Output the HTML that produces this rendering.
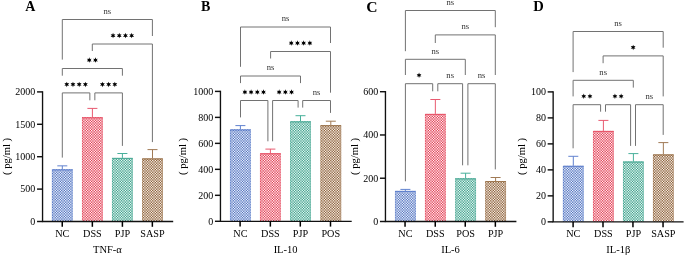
<!DOCTYPE html><html><head><meta charset="utf-8"><style>html,body{margin:0;padding:0;background:#fff;}svg{display:block;will-change:transform}</style></head><body>
<svg width="685" height="257" viewBox="0 0 685 257" font-family='"Liberation Serif", serif'>
<defs>
<pattern id="p_blue" width="13" height="13" patternUnits="userSpaceOnUse"><path fill="#5072c0" d="M4 0h1v1h-1zM12 0h1v1h-1zM0 4h1v1h-1zM8 4h1v1h-1zM4 8h1v1h-1zM12 8h1v1h-1zM0 12h1v1h-1zM8 12h1v1h-1z"/><path fill="#5e7dc5" d="M9 0h1v1h-1zM4 3h1v1h-1zM12 3h1v1h-1zM3 4h1v1h-1zM9 8h1v1h-1zM0 9h1v1h-1zM8 9h1v1h-1zM3 12h1v1h-1z"/><path fill="#6b88ca" d="M7 0h1v1h-1zM9 3h1v1h-1zM5 4h1v1h-1zM4 5h1v1h-1zM12 5h1v1h-1zM0 7h1v1h-1zM8 7h1v1h-1zM7 8h1v1h-1zM3 9h1v1h-1zM5 12h1v1h-1z"/><path fill="#7893cf" d="M7 3h1v1h-1zM9 5h1v1h-1zM3 7h1v1h-1zM5 9h1v1h-1z"/><path fill="#869ed4" d="M1 0h1v1h-1zM0 1h1v1h-1zM3 1h1v1h-1zM8 1h1v1h-1zM1 3h1v1h-1zM11 4h1v1h-1zM7 5h1v1h-1zM5 7h1v1h-1zM1 8h1v1h-1zM11 9h1v1h-1zM4 11h1v1h-1zM9 11h1v1h-1zM12 11h1v1h-1zM11 12h1v1h-1z"/><path fill="#94a9d9" d="M2 0h1v1h-1zM5 1h1v1h-1zM11 1h1v1h-1zM0 2h1v1h-1zM3 2h1v1h-1zM5 2h1v1h-1zM8 2h1v1h-1zM2 3h1v1h-1zM10 4h1v1h-1zM1 5h1v1h-1zM2 5h1v1h-1zM10 7h1v1h-1zM11 7h1v1h-1zM2 8h1v1h-1zM10 9h1v1h-1zM4 10h1v1h-1zM7 10h1v1h-1zM9 10h1v1h-1zM12 10h1v1h-1zM1 11h1v1h-1zM7 11h1v1h-1zM10 12h1v1h-1z"/><path fill="#a1b4de" d="M6 0h1v1h-1zM2 1h1v1h-1zM6 1h1v1h-1zM10 1h1v1h-1zM1 2h1v1h-1zM2 2h1v1h-1zM6 2h1v1h-1zM10 2h1v1h-1zM11 2h1v1h-1zM6 3h1v1h-1zM6 4h1v1h-1zM6 5h1v1h-1zM0 6h1v1h-1zM1 6h1v1h-1zM2 6h1v1h-1zM3 6h1v1h-1zM4 6h1v1h-1zM5 6h1v1h-1zM6 6h1v1h-1zM7 6h1v1h-1zM8 6h1v1h-1zM9 6h1v1h-1zM10 6h1v1h-1zM11 6h1v1h-1zM12 6h1v1h-1zM6 7h1v1h-1zM6 8h1v1h-1zM6 9h1v1h-1zM1 10h1v1h-1zM2 10h1v1h-1zM6 10h1v1h-1zM10 10h1v1h-1zM11 10h1v1h-1zM2 11h1v1h-1zM6 11h1v1h-1zM10 11h1v1h-1zM6 12h1v1h-1z"/><path fill="#aebee3" d="M10 0h1v1h-1zM1 1h1v1h-1zM7 1h1v1h-1zM4 2h1v1h-1zM7 2h1v1h-1zM9 2h1v1h-1zM12 2h1v1h-1zM10 3h1v1h-1zM2 4h1v1h-1zM10 5h1v1h-1zM11 5h1v1h-1zM1 7h1v1h-1zM2 7h1v1h-1zM10 8h1v1h-1zM2 9h1v1h-1zM0 10h1v1h-1zM3 10h1v1h-1zM5 10h1v1h-1zM8 10h1v1h-1zM5 11h1v1h-1zM11 11h1v1h-1zM2 12h1v1h-1z"/><path fill="#bcc9e8" d="M11 0h1v1h-1zM4 1h1v1h-1zM9 1h1v1h-1zM12 1h1v1h-1zM11 3h1v1h-1zM1 4h1v1h-1zM5 5h1v1h-1zM7 7h1v1h-1zM11 8h1v1h-1zM1 9h1v1h-1zM0 11h1v1h-1zM3 11h1v1h-1zM8 11h1v1h-1zM1 12h1v1h-1z"/><path fill="#cad4ed" d="M5 3h1v1h-1zM3 5h1v1h-1zM9 7h1v1h-1zM7 9h1v1h-1z"/><path fill="#d7dff2" d="M5 0h1v1h-1zM3 3h1v1h-1zM7 4h1v1h-1zM0 5h1v1h-1zM8 5h1v1h-1zM4 7h1v1h-1zM12 7h1v1h-1zM5 8h1v1h-1zM9 9h1v1h-1zM7 12h1v1h-1z"/><path fill="#e4eaf7" d="M3 0h1v1h-1zM0 3h1v1h-1zM8 3h1v1h-1zM9 4h1v1h-1zM3 8h1v1h-1zM4 9h1v1h-1zM12 9h1v1h-1zM9 12h1v1h-1z"/><path fill="#f2f5fc" d="M0 0h1v1h-1zM8 0h1v1h-1zM4 4h1v1h-1zM12 4h1v1h-1zM0 8h1v1h-1zM8 8h1v1h-1zM4 12h1v1h-1zM12 12h1v1h-1z"/></pattern>
<pattern id="p_red" width="13" height="13" patternUnits="userSpaceOnUse"><path fill="#e23a50" d="M4 0h1v1h-1zM12 0h1v1h-1zM0 4h1v1h-1zM8 4h1v1h-1zM4 8h1v1h-1zM12 8h1v1h-1zM0 12h1v1h-1zM8 12h1v1h-1z"/><path fill="#e44a5e" d="M9 0h1v1h-1zM4 3h1v1h-1zM12 3h1v1h-1zM3 4h1v1h-1zM9 8h1v1h-1zM0 9h1v1h-1zM8 9h1v1h-1zM3 12h1v1h-1z"/><path fill="#e75a6c" d="M7 0h1v1h-1zM9 3h1v1h-1zM5 4h1v1h-1zM4 5h1v1h-1zM12 5h1v1h-1zM0 7h1v1h-1zM8 7h1v1h-1zM7 8h1v1h-1zM3 9h1v1h-1zM5 12h1v1h-1z"/><path fill="#e9697a" d="M7 3h1v1h-1zM9 5h1v1h-1zM3 7h1v1h-1zM5 9h1v1h-1z"/><path fill="#ec7988" d="M1 0h1v1h-1zM0 1h1v1h-1zM3 1h1v1h-1zM8 1h1v1h-1zM1 3h1v1h-1zM11 4h1v1h-1zM7 5h1v1h-1zM5 7h1v1h-1zM1 8h1v1h-1zM11 9h1v1h-1zM4 11h1v1h-1zM9 11h1v1h-1zM12 11h1v1h-1zM11 12h1v1h-1z"/><path fill="#ee8996" d="M2 0h1v1h-1zM5 1h1v1h-1zM11 1h1v1h-1zM0 2h1v1h-1zM3 2h1v1h-1zM5 2h1v1h-1zM8 2h1v1h-1zM2 3h1v1h-1zM10 4h1v1h-1zM1 5h1v1h-1zM2 5h1v1h-1zM10 7h1v1h-1zM11 7h1v1h-1zM2 8h1v1h-1zM10 9h1v1h-1zM4 10h1v1h-1zM7 10h1v1h-1zM9 10h1v1h-1zM12 10h1v1h-1zM1 11h1v1h-1zM7 11h1v1h-1zM10 12h1v1h-1z"/><path fill="#f098a4" d="M6 0h1v1h-1zM2 1h1v1h-1zM6 1h1v1h-1zM10 1h1v1h-1zM1 2h1v1h-1zM2 2h1v1h-1zM6 2h1v1h-1zM10 2h1v1h-1zM11 2h1v1h-1zM6 3h1v1h-1zM6 4h1v1h-1zM6 5h1v1h-1zM0 6h1v1h-1zM1 6h1v1h-1zM2 6h1v1h-1zM3 6h1v1h-1zM4 6h1v1h-1zM5 6h1v1h-1zM6 6h1v1h-1zM7 6h1v1h-1zM8 6h1v1h-1zM9 6h1v1h-1zM10 6h1v1h-1zM11 6h1v1h-1zM12 6h1v1h-1zM6 7h1v1h-1zM6 8h1v1h-1zM6 9h1v1h-1zM1 10h1v1h-1zM2 10h1v1h-1zM6 10h1v1h-1zM10 10h1v1h-1zM11 10h1v1h-1zM2 11h1v1h-1zM6 11h1v1h-1zM10 11h1v1h-1zM6 12h1v1h-1z"/><path fill="#f3a8b2" d="M10 0h1v1h-1zM1 1h1v1h-1zM7 1h1v1h-1zM4 2h1v1h-1zM7 2h1v1h-1zM9 2h1v1h-1zM12 2h1v1h-1zM10 3h1v1h-1zM2 4h1v1h-1zM10 5h1v1h-1zM11 5h1v1h-1zM1 7h1v1h-1zM2 7h1v1h-1zM10 8h1v1h-1zM2 9h1v1h-1zM0 10h1v1h-1zM3 10h1v1h-1zM5 10h1v1h-1zM8 10h1v1h-1zM5 11h1v1h-1zM11 11h1v1h-1zM2 12h1v1h-1z"/><path fill="#f5b8c0" d="M11 0h1v1h-1zM4 1h1v1h-1zM9 1h1v1h-1zM12 1h1v1h-1zM11 3h1v1h-1zM1 4h1v1h-1zM5 5h1v1h-1zM7 7h1v1h-1zM11 8h1v1h-1zM1 9h1v1h-1zM0 11h1v1h-1zM3 11h1v1h-1zM8 11h1v1h-1zM1 12h1v1h-1z"/><path fill="#f8c8ce" d="M5 3h1v1h-1zM3 5h1v1h-1zM9 7h1v1h-1zM7 9h1v1h-1z"/><path fill="#fad8dc" d="M5 0h1v1h-1zM3 3h1v1h-1zM7 4h1v1h-1zM0 5h1v1h-1zM8 5h1v1h-1zM4 7h1v1h-1zM12 7h1v1h-1zM5 8h1v1h-1zM9 9h1v1h-1zM7 12h1v1h-1z"/><path fill="#fde7ea" d="M3 0h1v1h-1zM0 3h1v1h-1zM8 3h1v1h-1zM9 4h1v1h-1zM3 8h1v1h-1zM4 9h1v1h-1zM12 9h1v1h-1zM9 12h1v1h-1z"/><path fill="#fff7f8" d="M0 0h1v1h-1zM8 0h1v1h-1zM4 4h1v1h-1zM12 4h1v1h-1zM0 8h1v1h-1zM8 8h1v1h-1zM4 12h1v1h-1zM12 12h1v1h-1z"/></pattern>
<pattern id="p_teal" width="13" height="13" patternUnits="userSpaceOnUse"><path fill="#3aa08a" d="M4 0h1v1h-1zM12 0h1v1h-1zM0 4h1v1h-1zM8 4h1v1h-1zM4 8h1v1h-1zM12 8h1v1h-1zM0 12h1v1h-1zM8 12h1v1h-1z"/><path fill="#49a793" d="M9 0h1v1h-1zM4 3h1v1h-1zM12 3h1v1h-1zM3 4h1v1h-1zM9 8h1v1h-1zM0 9h1v1h-1zM8 9h1v1h-1zM3 12h1v1h-1z"/><path fill="#58af9c" d="M7 0h1v1h-1zM9 3h1v1h-1zM5 4h1v1h-1zM4 5h1v1h-1zM12 5h1v1h-1zM0 7h1v1h-1zM8 7h1v1h-1zM7 8h1v1h-1zM3 9h1v1h-1zM5 12h1v1h-1z"/><path fill="#67b6a5" d="M7 3h1v1h-1zM9 5h1v1h-1zM3 7h1v1h-1zM5 9h1v1h-1z"/><path fill="#76beae" d="M1 0h1v1h-1zM0 1h1v1h-1zM3 1h1v1h-1zM8 1h1v1h-1zM1 3h1v1h-1zM11 4h1v1h-1zM7 5h1v1h-1zM5 7h1v1h-1zM1 8h1v1h-1zM11 9h1v1h-1zM4 11h1v1h-1zM9 11h1v1h-1zM12 11h1v1h-1zM11 12h1v1h-1z"/><path fill="#85c5b7" d="M2 0h1v1h-1zM5 1h1v1h-1zM11 1h1v1h-1zM0 2h1v1h-1zM3 2h1v1h-1zM5 2h1v1h-1zM8 2h1v1h-1zM2 3h1v1h-1zM10 4h1v1h-1zM1 5h1v1h-1zM2 5h1v1h-1zM10 7h1v1h-1zM11 7h1v1h-1zM2 8h1v1h-1zM10 9h1v1h-1zM4 10h1v1h-1zM7 10h1v1h-1zM9 10h1v1h-1zM12 10h1v1h-1zM1 11h1v1h-1zM7 11h1v1h-1zM10 12h1v1h-1z"/><path fill="#94ccc0" d="M6 0h1v1h-1zM2 1h1v1h-1zM6 1h1v1h-1zM10 1h1v1h-1zM1 2h1v1h-1zM2 2h1v1h-1zM6 2h1v1h-1zM10 2h1v1h-1zM11 2h1v1h-1zM6 3h1v1h-1zM6 4h1v1h-1zM6 5h1v1h-1zM0 6h1v1h-1zM1 6h1v1h-1zM2 6h1v1h-1zM3 6h1v1h-1zM4 6h1v1h-1zM5 6h1v1h-1zM6 6h1v1h-1zM7 6h1v1h-1zM8 6h1v1h-1zM9 6h1v1h-1zM10 6h1v1h-1zM11 6h1v1h-1zM12 6h1v1h-1zM6 7h1v1h-1zM6 8h1v1h-1zM6 9h1v1h-1zM1 10h1v1h-1zM2 10h1v1h-1zM6 10h1v1h-1zM10 10h1v1h-1zM11 10h1v1h-1zM2 11h1v1h-1zM6 11h1v1h-1zM10 11h1v1h-1zM6 12h1v1h-1z"/><path fill="#a3d4c9" d="M10 0h1v1h-1zM1 1h1v1h-1zM7 1h1v1h-1zM4 2h1v1h-1zM7 2h1v1h-1zM9 2h1v1h-1zM12 2h1v1h-1zM10 3h1v1h-1zM2 4h1v1h-1zM10 5h1v1h-1zM11 5h1v1h-1zM1 7h1v1h-1zM2 7h1v1h-1zM10 8h1v1h-1zM2 9h1v1h-1zM0 10h1v1h-1zM3 10h1v1h-1zM5 10h1v1h-1zM8 10h1v1h-1zM5 11h1v1h-1zM11 11h1v1h-1zM2 12h1v1h-1z"/><path fill="#b2dbd2" d="M11 0h1v1h-1zM4 1h1v1h-1zM9 1h1v1h-1zM12 1h1v1h-1zM11 3h1v1h-1zM1 4h1v1h-1zM5 5h1v1h-1zM7 7h1v1h-1zM11 8h1v1h-1zM1 9h1v1h-1zM0 11h1v1h-1zM3 11h1v1h-1zM8 11h1v1h-1zM1 12h1v1h-1z"/><path fill="#c1e3db" d="M5 3h1v1h-1zM3 5h1v1h-1zM9 7h1v1h-1zM7 9h1v1h-1z"/><path fill="#d0eae4" d="M5 0h1v1h-1zM3 3h1v1h-1zM7 4h1v1h-1zM0 5h1v1h-1zM8 5h1v1h-1zM4 7h1v1h-1zM12 7h1v1h-1zM5 8h1v1h-1zM9 9h1v1h-1zM7 12h1v1h-1z"/><path fill="#dff2ed" d="M3 0h1v1h-1zM0 3h1v1h-1zM8 3h1v1h-1zM9 4h1v1h-1zM3 8h1v1h-1zM4 9h1v1h-1zM12 9h1v1h-1zM9 12h1v1h-1z"/><path fill="#eef9f6" d="M0 0h1v1h-1zM8 0h1v1h-1zM4 4h1v1h-1zM12 4h1v1h-1zM0 8h1v1h-1zM8 8h1v1h-1zM4 12h1v1h-1zM12 12h1v1h-1z"/></pattern>
<pattern id="p_brown" width="13" height="13" patternUnits="userSpaceOnUse"><path fill="#8c5f37" d="M4 0h1v1h-1zM12 0h1v1h-1zM0 4h1v1h-1zM8 4h1v1h-1zM4 8h1v1h-1zM12 8h1v1h-1zM0 12h1v1h-1zM8 12h1v1h-1z"/><path fill="#956b46" d="M9 0h1v1h-1zM4 3h1v1h-1zM12 3h1v1h-1zM3 4h1v1h-1zM9 8h1v1h-1zM0 9h1v1h-1zM8 9h1v1h-1zM3 12h1v1h-1z"/><path fill="#9e7855" d="M7 0h1v1h-1zM9 3h1v1h-1zM5 4h1v1h-1zM4 5h1v1h-1zM12 5h1v1h-1zM0 7h1v1h-1zM8 7h1v1h-1zM7 8h1v1h-1zM3 9h1v1h-1zM5 12h1v1h-1z"/><path fill="#a78464" d="M7 3h1v1h-1zM9 5h1v1h-1zM3 7h1v1h-1zM5 9h1v1h-1z"/><path fill="#b09073" d="M1 0h1v1h-1zM0 1h1v1h-1zM3 1h1v1h-1zM8 1h1v1h-1zM1 3h1v1h-1zM11 4h1v1h-1zM7 5h1v1h-1zM5 7h1v1h-1zM1 8h1v1h-1zM11 9h1v1h-1zM4 11h1v1h-1zM9 11h1v1h-1zM12 11h1v1h-1zM11 12h1v1h-1z"/><path fill="#b99c82" d="M2 0h1v1h-1zM5 1h1v1h-1zM11 1h1v1h-1zM0 2h1v1h-1zM3 2h1v1h-1zM5 2h1v1h-1zM8 2h1v1h-1zM2 3h1v1h-1zM10 4h1v1h-1zM1 5h1v1h-1zM2 5h1v1h-1zM10 7h1v1h-1zM11 7h1v1h-1zM2 8h1v1h-1zM10 9h1v1h-1zM4 10h1v1h-1zM7 10h1v1h-1zM9 10h1v1h-1zM12 10h1v1h-1zM1 11h1v1h-1zM7 11h1v1h-1zM10 12h1v1h-1z"/><path fill="#c2a892" d="M6 0h1v1h-1zM2 1h1v1h-1zM6 1h1v1h-1zM10 1h1v1h-1zM1 2h1v1h-1zM2 2h1v1h-1zM6 2h1v1h-1zM10 2h1v1h-1zM11 2h1v1h-1zM6 3h1v1h-1zM6 4h1v1h-1zM6 5h1v1h-1zM0 6h1v1h-1zM1 6h1v1h-1zM2 6h1v1h-1zM3 6h1v1h-1zM4 6h1v1h-1zM5 6h1v1h-1zM6 6h1v1h-1zM7 6h1v1h-1zM8 6h1v1h-1zM9 6h1v1h-1zM10 6h1v1h-1zM11 6h1v1h-1zM12 6h1v1h-1zM6 7h1v1h-1zM6 8h1v1h-1zM6 9h1v1h-1zM1 10h1v1h-1zM2 10h1v1h-1zM6 10h1v1h-1zM10 10h1v1h-1zM11 10h1v1h-1zM2 11h1v1h-1zM6 11h1v1h-1zM10 11h1v1h-1zM6 12h1v1h-1z"/><path fill="#cbb5a1" d="M10 0h1v1h-1zM1 1h1v1h-1zM7 1h1v1h-1zM4 2h1v1h-1zM7 2h1v1h-1zM9 2h1v1h-1zM12 2h1v1h-1zM10 3h1v1h-1zM2 4h1v1h-1zM10 5h1v1h-1zM11 5h1v1h-1zM1 7h1v1h-1zM2 7h1v1h-1zM10 8h1v1h-1zM2 9h1v1h-1zM0 10h1v1h-1zM3 10h1v1h-1zM5 10h1v1h-1zM8 10h1v1h-1zM5 11h1v1h-1zM11 11h1v1h-1zM2 12h1v1h-1z"/><path fill="#d4c1b0" d="M11 0h1v1h-1zM4 1h1v1h-1zM9 1h1v1h-1zM12 1h1v1h-1zM11 3h1v1h-1zM1 4h1v1h-1zM5 5h1v1h-1zM7 7h1v1h-1zM11 8h1v1h-1zM1 9h1v1h-1zM0 11h1v1h-1zM3 11h1v1h-1zM8 11h1v1h-1zM1 12h1v1h-1z"/><path fill="#ddcdbf" d="M5 3h1v1h-1zM3 5h1v1h-1zM9 7h1v1h-1zM7 9h1v1h-1z"/><path fill="#e6dace" d="M5 0h1v1h-1zM3 3h1v1h-1zM7 4h1v1h-1zM0 5h1v1h-1zM8 5h1v1h-1zM4 7h1v1h-1zM12 7h1v1h-1zM5 8h1v1h-1zM9 9h1v1h-1zM7 12h1v1h-1z"/><path fill="#efe6dd" d="M3 0h1v1h-1zM0 3h1v1h-1zM8 3h1v1h-1zM9 4h1v1h-1zM3 8h1v1h-1zM4 9h1v1h-1zM12 9h1v1h-1zM9 12h1v1h-1z"/><path fill="#f8f2ec" d="M0 0h1v1h-1zM8 0h1v1h-1zM4 4h1v1h-1zM12 4h1v1h-1zM0 8h1v1h-1zM8 8h1v1h-1zM4 12h1v1h-1zM12 12h1v1h-1z"/></pattern>
</defs>
<rect width="685" height="257" fill="#fff"/>
<text x="25.2" y="11.1" font-size="14" font-weight="bold" fill="#000">A</text>
<rect x="51.95" y="169.3" width="20.7" height="52.2" fill="url(#p_blue)"/>
<path d="M52.3 221.5V169.8H72.3V221.5" fill="none" stroke="#5a7ccb" stroke-width="0.7" stroke-opacity="0.6"/>
<path d="M51.95 169.85H72.65" fill="none" stroke="#5a7ccb" stroke-width="1.1" stroke-opacity="0.8"/>
<path d="M62.3 169.3V165.85M57.3 165.85H67.3" stroke="#6283cf" stroke-width="1" fill="none"/>
<rect x="82.05" y="117.2" width="20.7" height="104.3" fill="url(#p_red)"/>
<path d="M82.4 221.5V117.7H102.4V221.5" fill="none" stroke="#e64d63" stroke-width="0.7" stroke-opacity="0.6"/>
<path d="M82.05 117.75H102.75" fill="none" stroke="#e64d63" stroke-width="1.1" stroke-opacity="0.8"/>
<path d="M92.4 117.2V108.4M87.4 108.4H97.4" stroke="#e85a70" stroke-width="1" fill="none"/>
<rect x="112.05" y="157.9" width="20.7" height="63.6" fill="url(#p_teal)"/>
<path d="M112.4 221.5V158.4H132.4V221.5" fill="none" stroke="#45a893" stroke-width="0.7" stroke-opacity="0.6"/>
<path d="M112.05 158.45H132.75" fill="none" stroke="#45a893" stroke-width="1.1" stroke-opacity="0.8"/>
<path d="M122.4 157.9V153.5M117.4 153.5H127.4" stroke="#48b09b" stroke-width="1" fill="none"/>
<rect x="142.15" y="158.4" width="20.7" height="63.1" fill="url(#p_brown)"/>
<path d="M142.5 221.5V158.9H162.5V221.5" fill="none" stroke="#9a7248" stroke-width="0.7" stroke-opacity="0.6"/>
<path d="M142.15 158.95H162.85" fill="none" stroke="#9a7248" stroke-width="1.1" stroke-opacity="0.8"/>
<path d="M152.5 158.4V149.6M147.5 149.6H157.5" stroke="#a07a55" stroke-width="1" fill="none"/>
<path d="M62.3 59.6V19.5H152.4V36" stroke="#727272" stroke-width="1" fill="none"/>
<text x="107.35" y="13.8" font-size="8.6" text-anchor="middle" fill="#333">ns</text>
<path d="M92.3 51V44H152.4V142.1" stroke="#727272" stroke-width="1" fill="none"/>
<polygon points="113.05,32.80 112.42,34.47 110.67,34.17 111.80,35.55 110.67,36.92 112.42,36.63 113.05,38.30 113.67,36.63 115.43,36.92 114.30,35.55 115.43,34.17 113.67,34.47" fill="#000"/>
<polygon points="119.25,32.80 118.62,34.47 116.87,34.17 118.00,35.55 116.87,36.92 118.62,36.63 119.25,38.30 119.88,36.63 121.63,36.92 120.50,35.55 121.63,34.17 119.88,34.47" fill="#000"/>
<polygon points="125.45,32.80 124.82,34.47 123.07,34.17 124.20,35.55 123.07,36.92 124.82,36.63 125.45,38.30 126.07,36.63 127.83,36.92 126.70,35.55 127.83,34.17 126.07,34.47" fill="#000"/>
<polygon points="131.65,32.80 131.03,34.47 129.27,34.17 130.40,35.55 129.27,36.92 131.03,36.63 131.65,38.30 132.28,36.63 134.03,36.92 132.90,35.55 134.03,34.17 132.28,34.47" fill="#000"/>
<path d="M62.3 75.7V68.5H122.4V75.7" stroke="#727272" stroke-width="1" fill="none"/>
<polygon points="89.25,57.30 88.62,58.97 86.87,58.67 88.00,60.05 86.87,61.42 88.62,61.13 89.25,62.80 89.88,61.13 91.63,61.42 90.50,60.05 91.63,58.67 89.88,58.97" fill="#000"/>
<polygon points="95.45,57.30 94.82,58.97 93.07,58.67 94.20,60.05 93.07,61.42 94.82,61.13 95.45,62.80 96.07,61.13 97.83,61.42 96.70,60.05 97.83,58.67 96.07,58.97" fill="#000"/>
<path d="M62.3 157.6V92.9H89.85V100.3" stroke="#727272" stroke-width="1" fill="none"/>
<polygon points="66.77,81.70 66.15,83.37 64.39,83.08 65.52,84.45 64.39,85.83 66.15,85.53 66.77,87.20 67.40,85.53 69.16,85.83 68.02,84.45 69.16,83.08 67.40,83.37" fill="#000"/>
<polygon points="72.97,81.70 72.35,83.37 70.59,83.08 71.72,84.45 70.59,85.83 72.35,85.53 72.97,87.20 73.60,85.53 75.36,85.83 74.22,84.45 75.36,83.08 73.60,83.37" fill="#000"/>
<polygon points="79.17,81.70 78.55,83.37 76.79,83.08 77.92,84.45 76.79,85.83 78.55,85.53 79.17,87.20 79.80,85.53 81.56,85.83 80.42,84.45 81.56,83.08 79.80,83.37" fill="#000"/>
<polygon points="85.37,81.70 84.75,83.37 82.99,83.08 84.12,84.45 82.99,85.83 84.75,85.53 85.37,87.20 86.00,85.53 87.76,85.83 86.62,84.45 87.76,83.08 86.00,83.37" fill="#000"/>
<path d="M94.85 100.3V92.9H122.4V145.9" stroke="#727272" stroke-width="1" fill="none"/>
<polygon points="102.42,81.70 101.80,83.37 100.04,83.08 101.17,84.45 100.04,85.83 101.80,85.53 102.42,87.20 103.05,85.53 104.81,85.83 103.67,84.45 104.81,83.08 103.05,83.37" fill="#000"/>
<polygon points="108.62,81.70 108.00,83.37 106.24,83.08 107.38,84.45 106.24,85.83 108.00,85.53 108.62,87.20 109.25,85.53 111.01,85.83 109.88,84.45 111.01,83.08 109.25,83.37" fill="#000"/>
<polygon points="114.83,81.70 114.20,83.37 112.44,83.08 113.58,84.45 112.44,85.83 114.20,85.53 114.83,87.20 115.45,85.53 117.21,85.83 116.08,84.45 117.21,83.08 115.45,83.37" fill="#000"/>
<path d="M42.55 91.2V221.5H173.2" stroke="#111" stroke-width="1.35" fill="none"/>
<path d="M37.05 221.5H42.55" stroke="#111" stroke-width="1.45"/>
<text x="35.35" y="224.8" font-size="10" text-anchor="end" fill="#000">0</text>
<path d="M37.05 189.1H42.55" stroke="#111" stroke-width="1.45"/>
<text x="35.35" y="192.4" font-size="10" text-anchor="end" fill="#000">500</text>
<path d="M37.05 156.7H42.55" stroke="#111" stroke-width="1.45"/>
<text x="35.35" y="160" font-size="10" text-anchor="end" fill="#000">1000</text>
<path d="M37.05 124.3H42.55" stroke="#111" stroke-width="1.45"/>
<text x="35.35" y="127.6" font-size="10" text-anchor="end" fill="#000">1500</text>
<path d="M37.05 91.9H42.55" stroke="#111" stroke-width="1.45"/>
<text x="35.35" y="95.2" font-size="10" text-anchor="end" fill="#000">2000</text>
<path d="M62.25 221.5V226.8" stroke="#000" stroke-width="1.5"/>
<text x="62.3" y="237" font-size="10.2" text-anchor="middle" fill="#000">NC</text>
<path d="M92.35 221.5V226.8" stroke="#000" stroke-width="1.5"/>
<text x="92.4" y="237" font-size="10.2" text-anchor="middle" fill="#000">DSS</text>
<path d="M122.4 221.5V226.8" stroke="#000" stroke-width="1.5"/>
<text x="122.4" y="237" font-size="10.2" text-anchor="middle" fill="#000">PJP</text>
<path d="M152.35 221.5V226.8" stroke="#000" stroke-width="1.5"/>
<text x="152.5" y="237" font-size="10.2" text-anchor="middle" fill="#000">SASP</text>
<text x="107.4" y="253.2" font-size="10.5" text-anchor="middle" fill="#000">TNF-α</text>
<text transform="translate(9.5 156.5) rotate(-90)" font-size="10.6" text-anchor="middle" fill="#000">( pg/ml )</text>
<text x="201" y="11.1" font-size="14" font-weight="bold" fill="#000">B</text>
<rect x="230.05" y="129.4" width="20.7" height="91.9" fill="url(#p_blue)"/>
<path d="M230.4 221.3V129.9H250.4V221.3" fill="none" stroke="#5a7ccb" stroke-width="0.7" stroke-opacity="0.6"/>
<path d="M230.05 129.95H250.75" fill="none" stroke="#5a7ccb" stroke-width="1.1" stroke-opacity="0.8"/>
<path d="M240.4 129.4V125.6M235.4 125.6H245.4" stroke="#6283cf" stroke-width="1" fill="none"/>
<rect x="260.05" y="153.2" width="20.7" height="68.1" fill="url(#p_red)"/>
<path d="M260.4 221.3V153.7H280.4V221.3" fill="none" stroke="#e64d63" stroke-width="0.7" stroke-opacity="0.6"/>
<path d="M260.05 153.75H280.75" fill="none" stroke="#e64d63" stroke-width="1.1" stroke-opacity="0.8"/>
<path d="M270.4 153.2V149.1M265.4 149.1H275.4" stroke="#e85a70" stroke-width="1" fill="none"/>
<rect x="290.15" y="121.3" width="20.7" height="100" fill="url(#p_teal)"/>
<path d="M290.5 221.3V121.8H310.5V221.3" fill="none" stroke="#45a893" stroke-width="0.7" stroke-opacity="0.6"/>
<path d="M290.15 121.85H310.85" fill="none" stroke="#45a893" stroke-width="1.1" stroke-opacity="0.8"/>
<path d="M300.5 121.3V115.7M295.5 115.7H305.5" stroke="#48b09b" stroke-width="1" fill="none"/>
<rect x="320.45" y="125.1" width="20.7" height="96.2" fill="url(#p_brown)"/>
<path d="M320.8 221.3V125.6H340.8V221.3" fill="none" stroke="#9a7248" stroke-width="0.7" stroke-opacity="0.6"/>
<path d="M320.45 125.65H341.15" fill="none" stroke="#9a7248" stroke-width="1.1" stroke-opacity="0.8"/>
<path d="M330.8 125.1V121.2M325.8 121.2H335.8" stroke="#a07a55" stroke-width="1" fill="none"/>
<path d="M240.5 66.8V27H330.5V43" stroke="#727272" stroke-width="1" fill="none"/>
<text x="285.5" y="21.3" font-size="8.6" text-anchor="middle" fill="#333">ns</text>
<path d="M270.6 58.5V51.5H330.5V92.7" stroke="#727272" stroke-width="1" fill="none"/>
<polygon points="291.25,40.30 290.62,41.97 288.87,41.67 290.00,43.05 288.87,44.42 290.62,44.13 291.25,45.80 291.88,44.13 293.63,44.42 292.50,43.05 293.63,41.67 291.88,41.97" fill="#000"/>
<polygon points="297.45,40.30 296.82,41.97 295.07,41.67 296.20,43.05 295.07,44.42 296.82,44.13 297.45,45.80 298.07,44.13 299.83,44.42 298.70,43.05 299.83,41.67 298.07,41.97" fill="#000"/>
<polygon points="303.65,40.30 303.03,41.97 301.27,41.67 302.40,43.05 301.27,44.42 303.03,44.13 303.65,45.80 304.28,44.13 306.03,44.42 304.90,43.05 306.03,41.67 304.28,41.97" fill="#000"/>
<polygon points="309.85,40.30 309.23,41.97 307.47,41.67 308.60,43.05 307.47,44.42 309.23,44.13 309.85,45.80 310.48,44.13 312.23,44.42 311.10,43.05 312.23,41.67 310.48,41.97" fill="#000"/>
<path d="M240.5 83.1V76H300.5V83.1" stroke="#727272" stroke-width="1" fill="none"/>
<text x="270.5" y="70.3" font-size="8.6" text-anchor="middle" fill="#333">ns</text>
<path d="M240.5 117.4V100.5H267.9V141.3" stroke="#727272" stroke-width="1" fill="none"/>
<polygon points="244.90,89.30 244.27,90.97 242.52,90.67 243.65,92.05 242.52,93.42 244.27,93.13 244.90,94.80 245.52,93.13 247.28,93.42 246.15,92.05 247.28,90.67 245.52,90.97" fill="#000"/>
<polygon points="251.10,89.30 250.47,90.97 248.72,90.67 249.85,92.05 248.72,93.42 250.47,93.13 251.10,94.80 251.72,93.13 253.48,93.42 252.35,92.05 253.48,90.67 251.72,90.97" fill="#000"/>
<polygon points="257.30,89.30 256.68,90.97 254.92,90.67 256.05,92.05 254.92,93.42 256.68,93.13 257.30,94.80 257.93,93.13 259.68,93.42 258.55,92.05 259.68,90.67 257.93,90.97" fill="#000"/>
<polygon points="263.50,89.30 262.88,90.97 261.12,90.67 262.25,92.05 261.12,93.42 262.88,93.13 263.50,94.80 264.12,93.13 265.88,93.42 264.75,92.05 265.88,90.67 264.12,90.97" fill="#000"/>
<path d="M272.6 141.3V100.5H298.1V107.6" stroke="#727272" stroke-width="1" fill="none"/>
<polygon points="279.15,89.30 278.53,90.97 276.77,90.67 277.90,92.05 276.77,93.42 278.53,93.13 279.15,94.80 279.78,93.13 281.53,93.42 280.40,92.05 281.53,90.67 279.78,90.97" fill="#000"/>
<polygon points="285.35,89.30 284.73,90.97 282.97,90.67 284.10,92.05 282.97,93.42 284.73,93.13 285.35,94.80 285.98,93.13 287.73,93.42 286.60,92.05 287.73,90.67 285.98,90.97" fill="#000"/>
<polygon points="291.55,89.30 290.93,90.97 289.17,90.67 290.30,92.05 289.17,93.42 290.93,93.13 291.55,94.80 292.18,93.13 293.93,93.42 292.80,92.05 293.93,90.67 292.18,90.97" fill="#000"/>
<path d="M302.7 107.6V100.5H330.5V112.9" stroke="#727272" stroke-width="1" fill="none"/>
<text x="316.6" y="94.8" font-size="8.6" text-anchor="middle" fill="#333">ns</text>
<path d="M220.45 90.7V221.3H351.7" stroke="#111" stroke-width="1.35" fill="none"/>
<path d="M214.95 221.3H220.45" stroke="#111" stroke-width="1.45"/>
<text x="213.25" y="224.6" font-size="10" text-anchor="end" fill="#000">0</text>
<path d="M214.95 195.32H220.45" stroke="#111" stroke-width="1.45"/>
<text x="213.25" y="198.62" font-size="10" text-anchor="end" fill="#000">200</text>
<path d="M214.95 169.34H220.45" stroke="#111" stroke-width="1.45"/>
<text x="213.25" y="172.64" font-size="10" text-anchor="end" fill="#000">400</text>
<path d="M214.95 143.36H220.45" stroke="#111" stroke-width="1.45"/>
<text x="213.25" y="146.66" font-size="10" text-anchor="end" fill="#000">600</text>
<path d="M214.95 117.38H220.45" stroke="#111" stroke-width="1.45"/>
<text x="213.25" y="120.68" font-size="10" text-anchor="end" fill="#000">800</text>
<path d="M214.95 91.4H220.45" stroke="#111" stroke-width="1.45"/>
<text x="213.25" y="94.7" font-size="10" text-anchor="end" fill="#000">1000</text>
<path d="M240.1 221.3V226.6" stroke="#000" stroke-width="1.5"/>
<text x="240.4" y="236.8" font-size="10.2" text-anchor="middle" fill="#000">NC</text>
<path d="M270.35 221.3V226.6" stroke="#000" stroke-width="1.5"/>
<text x="270.4" y="236.8" font-size="10.2" text-anchor="middle" fill="#000">DSS</text>
<path d="M300.3 221.3V226.6" stroke="#000" stroke-width="1.5"/>
<text x="300.5" y="236.8" font-size="10.2" text-anchor="middle" fill="#000">PJP</text>
<path d="M330.5 221.3V226.6" stroke="#000" stroke-width="1.5"/>
<text x="330.8" y="236.8" font-size="10.2" text-anchor="middle" fill="#000">POS</text>
<text x="285.6" y="253.2" font-size="10.5" text-anchor="middle" fill="#000">IL-10</text>
<text transform="translate(186.4 156.5) rotate(-90)" font-size="10.6" text-anchor="middle" fill="#000">( pg/ml )</text>
<text x="366.3" y="11.6" font-size="15.6" font-weight="bold" fill="#000">C</text>
<rect x="395.05" y="190.9" width="20.7" height="30.6" fill="url(#p_blue)"/>
<path d="M395.4 221.5V191.4H415.4V221.5" fill="none" stroke="#5a7ccb" stroke-width="0.7" stroke-opacity="0.6"/>
<path d="M395.05 191.45H415.75" fill="none" stroke="#5a7ccb" stroke-width="1.1" stroke-opacity="0.8"/>
<path d="M405.4 190.9V189.4M400.4 189.4H410.4" stroke="#6283cf" stroke-width="1" fill="none"/>
<rect x="425" y="113.9" width="20.7" height="107.6" fill="url(#p_red)"/>
<path d="M425.35 221.5V114.4H445.35V221.5" fill="none" stroke="#e64d63" stroke-width="0.7" stroke-opacity="0.6"/>
<path d="M425 114.45H445.7" fill="none" stroke="#e64d63" stroke-width="1.1" stroke-opacity="0.8"/>
<path d="M435.35 113.9V99.5M430.35 99.5H440.35" stroke="#e85a70" stroke-width="1" fill="none"/>
<rect x="455.25" y="178.3" width="20.7" height="43.2" fill="url(#p_teal)"/>
<path d="M455.6 221.5V178.8H475.6V221.5" fill="none" stroke="#45a893" stroke-width="0.7" stroke-opacity="0.6"/>
<path d="M455.25 178.85H475.95" fill="none" stroke="#45a893" stroke-width="1.1" stroke-opacity="0.8"/>
<path d="M465.6 178.3V173.2M460.6 173.2H470.6" stroke="#48b09b" stroke-width="1" fill="none"/>
<rect x="485.25" y="181" width="20.7" height="40.5" fill="url(#p_brown)"/>
<path d="M485.6 221.5V181.5H505.6V221.5" fill="none" stroke="#9a7248" stroke-width="0.7" stroke-opacity="0.6"/>
<path d="M485.25 181.55H505.95" fill="none" stroke="#9a7248" stroke-width="1.1" stroke-opacity="0.8"/>
<path d="M495.6 181V177.5M490.6 177.5H500.6" stroke="#a07a55" stroke-width="1" fill="none"/>
<path d="M405.4 51.2V10.5H495.3V27.2" stroke="#727272" stroke-width="1" fill="none"/>
<text x="450.35" y="4.8" font-size="8.6" text-anchor="middle" fill="#333">ns</text>
<path d="M435.3 43V34.9H495.3V75" stroke="#727272" stroke-width="1" fill="none"/>
<text x="465.3" y="29.2" font-size="8.6" text-anchor="middle" fill="#333">ns</text>
<path d="M405.4 75V59.3H465.3V75" stroke="#727272" stroke-width="1" fill="none"/>
<text x="435.35" y="53.6" font-size="8.6" text-anchor="middle" fill="#333">ns</text>
<path d="M405.4 181.3V83.7H432.7V91.3" stroke="#727272" stroke-width="1" fill="none"/>
<polygon points="419.05,72.50 418.42,74.17 416.67,73.88 417.80,75.25 416.67,76.62 418.42,76.33 419.05,78.00 419.67,76.33 421.43,76.62 420.30,75.25 421.43,73.88 419.67,74.17" fill="#000"/>
<path d="M437.8 91.3V83.7H462.6V165.3" stroke="#727272" stroke-width="1" fill="none"/>
<text x="450.2" y="78" font-size="8.6" text-anchor="middle" fill="#333">ns</text>
<path d="M467.9 165.3V83.7H495.3V169.4" stroke="#727272" stroke-width="1" fill="none"/>
<text x="481.6" y="78" font-size="8.6" text-anchor="middle" fill="#333">ns</text>
<path d="M385.45 91V221.5H516.4" stroke="#111" stroke-width="1.35" fill="none"/>
<path d="M379.95 221.5H385.45" stroke="#111" stroke-width="1.45"/>
<text x="378.25" y="224.8" font-size="10" text-anchor="end" fill="#000">0</text>
<path d="M379.95 178.23H385.45" stroke="#111" stroke-width="1.45"/>
<text x="378.25" y="181.53" font-size="10" text-anchor="end" fill="#000">200</text>
<path d="M379.95 134.97H385.45" stroke="#111" stroke-width="1.45"/>
<text x="378.25" y="138.27" font-size="10" text-anchor="end" fill="#000">400</text>
<path d="M379.95 91.7H385.45" stroke="#111" stroke-width="1.45"/>
<text x="378.25" y="95" font-size="10" text-anchor="end" fill="#000">600</text>
<path d="M405.05 221.5V226.8" stroke="#000" stroke-width="1.5"/>
<text x="405.4" y="237" font-size="10.2" text-anchor="middle" fill="#000">NC</text>
<path d="M435.25 221.5V226.8" stroke="#000" stroke-width="1.5"/>
<text x="435.35" y="237" font-size="10.2" text-anchor="middle" fill="#000">DSS</text>
<path d="M465.25 221.5V226.8" stroke="#000" stroke-width="1.5"/>
<text x="465.6" y="237" font-size="10.2" text-anchor="middle" fill="#000">POS</text>
<path d="M495.35 221.5V226.8" stroke="#000" stroke-width="1.5"/>
<text x="495.6" y="237" font-size="10.2" text-anchor="middle" fill="#000">PJP</text>
<text x="450.5" y="253.2" font-size="10.5" text-anchor="middle" fill="#000">IL-6</text>
<text transform="translate(357.7 156.5) rotate(-90)" font-size="10.6" text-anchor="middle" fill="#000">( pg/ml )</text>
<text x="533.3" y="11.1" font-size="14.6" font-weight="bold" fill="#000">D</text>
<rect x="562.95" y="165.8" width="20.7" height="56.05" fill="url(#p_blue)"/>
<path d="M563.3 221.85V166.3H583.3V221.85" fill="none" stroke="#5a7ccb" stroke-width="0.7" stroke-opacity="0.6"/>
<path d="M562.95 166.35H583.65" fill="none" stroke="#5a7ccb" stroke-width="1.1" stroke-opacity="0.8"/>
<path d="M573.3 165.8V156.3M568.3 156.3H578.3" stroke="#6283cf" stroke-width="1" fill="none"/>
<rect x="593.05" y="130.9" width="20.7" height="90.95" fill="url(#p_red)"/>
<path d="M593.4 221.85V131.4H613.4V221.85" fill="none" stroke="#e64d63" stroke-width="0.7" stroke-opacity="0.6"/>
<path d="M593.05 131.45H613.75" fill="none" stroke="#e64d63" stroke-width="1.1" stroke-opacity="0.8"/>
<path d="M603.4 130.9V120.4M598.4 120.4H608.4" stroke="#e85a70" stroke-width="1" fill="none"/>
<rect x="623.05" y="161.5" width="20.7" height="60.35" fill="url(#p_teal)"/>
<path d="M623.4 221.85V162H643.4V221.85" fill="none" stroke="#45a893" stroke-width="0.7" stroke-opacity="0.6"/>
<path d="M623.05 162.05H643.75" fill="none" stroke="#45a893" stroke-width="1.1" stroke-opacity="0.8"/>
<path d="M633.4 161.5V153.6M628.4 153.6H638.4" stroke="#48b09b" stroke-width="1" fill="none"/>
<rect x="653" y="154.4" width="20.7" height="67.45" fill="url(#p_brown)"/>
<path d="M653.35 221.85V154.9H673.35V221.85" fill="none" stroke="#9a7248" stroke-width="0.7" stroke-opacity="0.6"/>
<path d="M653 154.95H673.7" fill="none" stroke="#9a7248" stroke-width="1.1" stroke-opacity="0.8"/>
<path d="M663.35 154.4V142.6M658.35 142.6H668.35" stroke="#a07a55" stroke-width="1" fill="none"/>
<path d="M573.1 72.1V31.5H663.2V47.7" stroke="#727272" stroke-width="1" fill="none"/>
<text x="618.15" y="25.8" font-size="8.6" text-anchor="middle" fill="#333">ns</text>
<path d="M603.1 63.2V55.9H663.2V96.4" stroke="#727272" stroke-width="1" fill="none"/>
<polygon points="633.15,44.70 632.53,46.37 630.77,46.08 631.90,47.45 630.77,48.83 632.53,48.53 633.15,50.20 633.78,48.53 635.53,48.83 634.40,47.45 635.53,46.08 633.78,46.37" fill="#000"/>
<path d="M573.1 96.4V80.3H633.3V87.6" stroke="#727272" stroke-width="1" fill="none"/>
<text x="603.2" y="74.6" font-size="8.6" text-anchor="middle" fill="#333">ns</text>
<path d="M573.1 148.3V104.7H600.6V111.7" stroke="#727272" stroke-width="1" fill="none"/>
<polygon points="583.75,93.50 583.12,95.17 581.37,94.88 582.50,96.25 581.37,97.62 583.12,97.33 583.75,99.00 584.38,97.33 586.13,97.62 585.00,96.25 586.13,94.88 584.38,95.17" fill="#000"/>
<polygon points="589.95,93.50 589.33,95.17 587.57,94.88 588.70,96.25 587.57,97.62 589.33,97.33 589.95,99.00 590.58,97.33 592.33,97.62 591.20,96.25 592.33,94.88 590.58,95.17" fill="#000"/>
<path d="M605.5 111.7V104.7H630.6V145.9" stroke="#727272" stroke-width="1" fill="none"/>
<polygon points="614.95,93.50 614.32,95.17 612.57,94.88 613.70,96.25 612.57,97.62 614.32,97.33 614.95,99.00 615.57,97.33 617.33,97.62 616.20,96.25 617.33,94.88 615.57,95.17" fill="#000"/>
<polygon points="621.15,93.50 620.52,95.17 618.77,94.88 619.90,96.25 618.77,97.62 620.52,97.33 621.15,99.00 621.77,97.33 623.53,97.62 622.40,96.25 623.53,94.88 621.77,95.17" fill="#000"/>
<path d="M635.5 145.9V104.7H663.2V134.9" stroke="#727272" stroke-width="1" fill="none"/>
<text x="649.35" y="99" font-size="8.6" text-anchor="middle" fill="#333">ns</text>
<path d="M553.15 91.2V221.85H683.6" stroke="#111" stroke-width="1.35" fill="none"/>
<path d="M547.65 221.85H553.15" stroke="#111" stroke-width="1.45"/>
<text x="545.95" y="225.15" font-size="10" text-anchor="end" fill="#000">0</text>
<path d="M547.65 195.86H553.15" stroke="#111" stroke-width="1.45"/>
<text x="545.95" y="199.16" font-size="10" text-anchor="end" fill="#000">20</text>
<path d="M547.65 169.87H553.15" stroke="#111" stroke-width="1.45"/>
<text x="545.95" y="173.17" font-size="10" text-anchor="end" fill="#000">40</text>
<path d="M547.65 143.88H553.15" stroke="#111" stroke-width="1.45"/>
<text x="545.95" y="147.18" font-size="10" text-anchor="end" fill="#000">60</text>
<path d="M547.65 117.89H553.15" stroke="#111" stroke-width="1.45"/>
<text x="545.95" y="121.19" font-size="10" text-anchor="end" fill="#000">80</text>
<path d="M547.65 91.9H553.15" stroke="#111" stroke-width="1.45"/>
<text x="545.95" y="95.2" font-size="10" text-anchor="end" fill="#000">100</text>
<path d="M573.1 221.85V227.15" stroke="#000" stroke-width="1.5"/>
<text x="573.3" y="237.35" font-size="10.2" text-anchor="middle" fill="#000">NC</text>
<path d="M603 221.85V227.15" stroke="#000" stroke-width="1.5"/>
<text x="603.4" y="237.35" font-size="10.2" text-anchor="middle" fill="#000">DSS</text>
<path d="M632.95 221.85V227.15" stroke="#000" stroke-width="1.5"/>
<text x="633.4" y="237.35" font-size="10.2" text-anchor="middle" fill="#000">PJP</text>
<path d="M663.05 221.85V227.15" stroke="#000" stroke-width="1.5"/>
<text x="663.35" y="237.35" font-size="10.2" text-anchor="middle" fill="#000">SASP</text>
<text x="618.33" y="253.2" font-size="10.5" text-anchor="middle" fill="#000">IL-1β</text>
<text transform="translate(525.2 156.5) rotate(-90)" font-size="10.6" text-anchor="middle" fill="#000">( pg/ml )</text>
</svg></body></html>
